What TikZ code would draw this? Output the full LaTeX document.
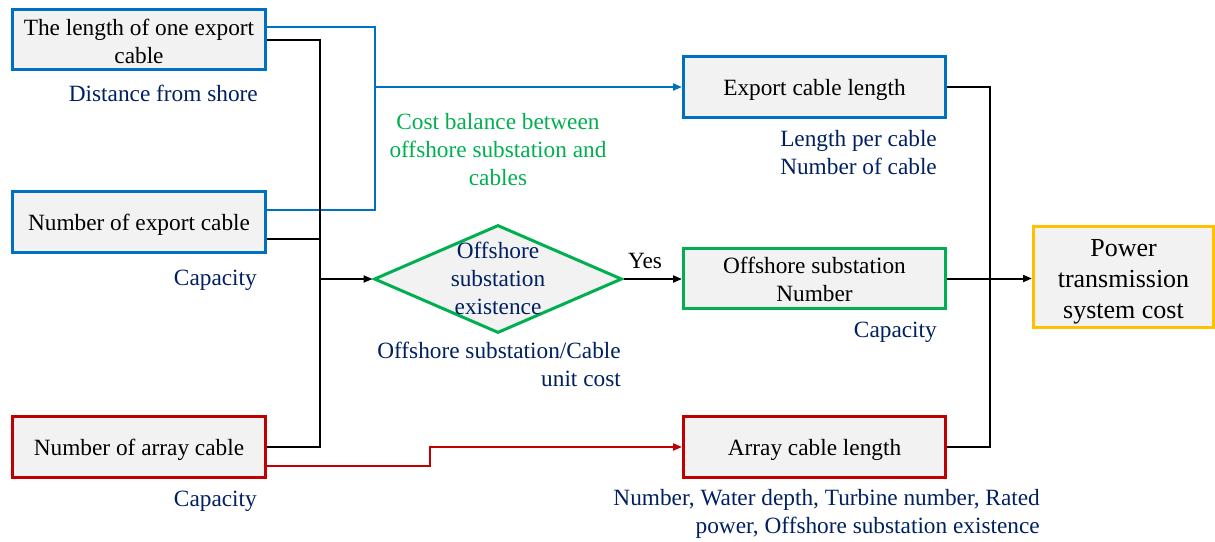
\documentclass[tikz,border=0pt]{standalone}
\usepackage{fontspec}
\setmainfont{Liberation Serif}
\usetikzlibrary{shapes.geometric,arrows.meta,calc}
\definecolor{cblue}{HTML}{0070C0}
\definecolor{cgreen}{HTML}{00B050}
\definecolor{cred}{HTML}{C00000}
\definecolor{cgold}{HTML}{FFC000}
\definecolor{cnavy}{HTML}{002060}
\definecolor{cfill}{HTML}{F2F2F2}
\tikzset{
  box/.style={fill=cfill, line width=3pt, inner sep=0pt},
  txt/.style={inner sep=0pt, align=center, text=black, font=\fontsize{23.3}{28}\selectfont},
  lbl/.style={inner sep=0pt, text=cnavy, font=\fontsize{23.3}{28}\selectfont},
  conn/.style={line width=2pt},
  arr/.style={-{Triangle[length=9pt,width=7pt]}},
}
\begin{document}
\begin{tikzpicture}[x=1pt,y=-1pt]
\useasboundingbox (0,0) rectangle (1215,541);
% left boxes
\node[box, draw=cblue, minimum width=253, minimum height=60] (b1) at (139,39.5) {};
\node[txt] (b1t) at ([yshift=-2]b1.center) {The length of one export\\cable};
\node[box, draw=cblue, minimum width=253, minimum height=61] (b2) at (139,222) {};
\node[txt] (b2t) at ([yshift=-3]b2.center) {Number of export cable};
\node[box, draw=cred, minimum width=253, minimum height=61] (b3) at (139,447) {};
\node[txt] (b3t) at ([yshift=-3]b3.center) {Number of array cable};
% middle
\node[draw=cgreen, fill=cfill, line width=3pt, diamond, inner sep=0pt, minimum width=248, minimum height=108] (dia) at (498,279) {};
\node[lbl, align=center] (diat) at ([yshift=1]dia.center) {Offshore\\substation\\existence};
% right boxes
\node[box, draw=cblue, minimum width=262, minimum height=61] (exp) at (814.5,87) {};
\node[txt] (expt) at ([yshift=-3]exp.center) {Export cable length};
\node[box, draw=cgreen, minimum width=262, minimum height=60] (osn) at (814.5,278.5) {};
\node[txt] (osnt) at ([yshift=-1]osn.center) {Offshore substation\\Number};
\node[box, draw=cred, minimum width=262, minimum height=61] (arc) at (814.5,447) {};
\node[txt] (arct) at ([yshift=-3]arc.center) {Array cable length};
\node[box, draw=cgold, minimum width=180, minimum height=101] (pw) at (1123.5,277) {};
\node[txt, font=\fontsize{26}{31}\selectfont] (pwt) at ([yshift=-5]pw.center) {Power\\transmission\\system cost};
% labels
\node[lbl, anchor=east] (l1) at (258,93) {Distance from shore};
\node[lbl, anchor=east] (l2) at (257,280) {Capacity};
\node[lbl, anchor=east] (l3) at (257,501) {Capacity};
\node[lbl, text=cgreen, align=center] (cb) at (498,150) {Cost balance between\\offshore substation and\\cables};
\node[lbl, anchor=east, align=right] (l4) at (937,153) {Length per cable\\Number of cable};
\node[lbl, anchor=east] (l5) at (937,332) {Capacity};
\node[lbl, anchor=east, align=right] (l6) at (621,364) {Offshore substation/Cable\\unit cost};
\node[lbl, anchor=east, align=right] (l7) at (1040,514) {Number, Water depth, Turbine number, Rated\\power, Offshore substation existence};
\node[lbl, text=black] (yes) at (645,261) {Yes};
% junction coordinates
\coordinate (jb) at (375,87);
\coordinate (jk) at (320,279);
\coordinate (jr) at (430,466);
\coordinate (jr2) at (990,278);
% blue connectors
\draw[conn, cblue] ([yshift=12.5]b1.east) -| (jb) |- ([yshift=12]b2.east);
\draw[conn, cblue, arr] (jb) -- (exp.west);
% black left
\draw[conn] (b1.east) -| (jk) |- (b3.east);
\draw[conn] ([yshift=-17]b2.east) -- ([yshift=-17]b2.east -| jk);
\draw[conn, arr] (jk) -- (dia.west);
\draw[conn, arr] (dia.east) -- (dia.east -| osn.west);
% red
\draw[conn, cred, arr] ([yshift=-19]b3.east) -| (jr) |- (arc.west);
% right
\draw[conn] (exp.east) -| (jr2) |- (arc.east);
\draw[conn, arr] (osn.east) -- (osn.east -| pw.west);
\end{tikzpicture}
\end{document}
